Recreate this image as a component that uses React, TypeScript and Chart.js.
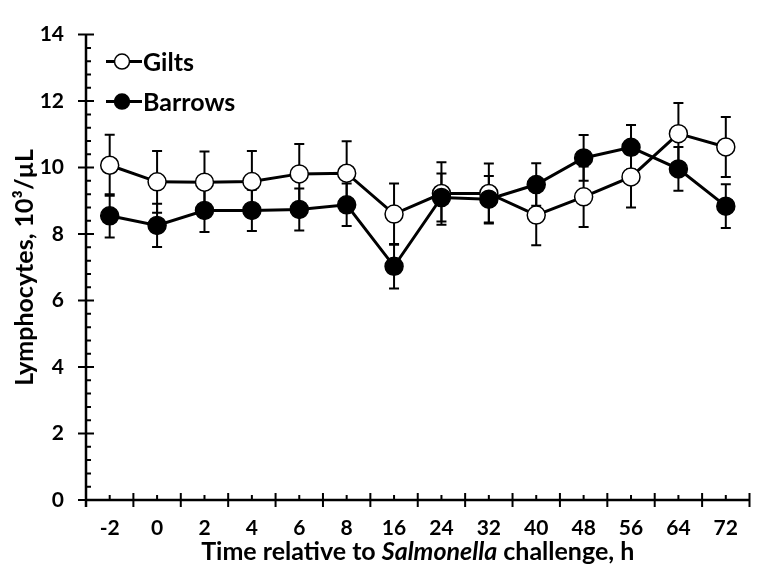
import React, { useEffect, useRef } from "react";
import Chart from "chart.js/auto";

const timeLabels = ["-2", "0", "2", "4", "6", "8", "16", "24", "32", "40", "48", "56", "64", "72"];
const giltsMean = [10.07, 9.57, 9.56, 9.58, 9.81, 9.83, 8.6, 9.22, 9.22, 8.57, 9.12, 9.72, 11.02, 10.62];
const giltsSE = [0.92, 0.93, 0.92, 0.92, 0.9, 0.96, 0.92, 0.94, 0.9, 0.91, 0.91, 0.92, 0.92, 0.9];
const barrowsMean = [8.55, 8.26, 8.71, 8.71, 8.74, 8.88, 7.03, 9.1, 9.05, 9.49, 10.29, 10.61, 9.96, 8.84];
const barrowsSE = [0.65, 0.65, 0.65, 0.62, 0.63, 0.64, 0.67, 0.72, 0.7, 0.64, 0.69, 0.67, 0.66, 0.66];
const yMin = 0;
const yMax = 14;
const yMajorStep = 2;
const yMinorStep = 0.4;
const seriesNames = ["Gilts", "Barrows"];
const xTitleParts = [
  { text: "Time relative to ", italic: false },
  { text: "Salmonella", italic: true },
  { text: " challenge, h", italic: false },
];
const yTitle = "Lymphocytes, 10³/µL";

const FONT = "Lato, 'Open Sans', sans-serif";

export default function App() {
  const ref = useRef<HTMLCanvasElement>(null);

  useEffect(() => {
    const canvas = ref.current!;

    const errorBars = {
      id: "errorBars",
      beforeDatasetsDraw(chart: any) {
        const ctx = chart.ctx;
        const xs = chart.scales.x;
        const ys = chart.scales.y;
        const sets = [
          { m: giltsMean, e: giltsSE },
          { m: barrowsMean, e: barrowsSE },
        ];
        ctx.save();
        ctx.strokeStyle = "#000";
        ctx.lineWidth = 2;
        sets.forEach((s) => {
          s.m.forEach((v, i) => {
            const x = xs.getPixelForValue(i);
            const yt = ys.getPixelForValue(v + s.e[i]);
            const yb = ys.getPixelForValue(v - s.e[i]);
            ctx.beginPath();
            ctx.moveTo(x, yt);
            ctx.lineTo(x, yb);
            ctx.moveTo(x - 5, yt);
            ctx.lineTo(x + 5, yt);
            ctx.moveTo(x - 5, yb);
            ctx.lineTo(x + 5, yb);
            ctx.stroke();
          });
        });
        ctx.restore();
      },
    };

    const decorations = {
      id: "decorations",
      afterDraw(chart: any) {
        const ctx = chart.ctx;
        const xs = chart.scales.x;
        const ys = chart.scales.y;
        const ca = chart.chartArea;
        ctx.save();
        ctx.strokeStyle = "#000";
        ctx.fillStyle = "#000";
        // axes
        ctx.lineWidth = 2.5;
        ctx.beginPath();
        ctx.moveTo(ca.left, ys.getPixelForValue(yMax));
        ctx.lineTo(ca.left, ca.bottom + 7);
        ctx.moveTo(ca.left, ca.bottom);
        ctx.lineTo(ca.right, ca.bottom);
        ctx.stroke();
        ctx.lineWidth = 2;
        ctx.beginPath();
        // y ticks
        const nMinor = Math.round((yMax - yMin) / yMinorStep);
        const perMajor = Math.round(yMajorStep / yMinorStep);
        for (let i = 0; i <= nMinor; i++) {
          const y = ys.getPixelForValue(yMin + i * yMinorStep);
          if (i % perMajor === 0) {
            ctx.moveTo(ca.left - 8, y);
            ctx.lineTo(ca.left + 8, y);
          } else {
            ctx.moveTo(ca.left, y);
            ctx.lineTo(ca.left + 5, y);
          }
        }
        // x ticks
        const n = timeLabels.length;
        for (let i = 0; i <= n; i++) {
          const x = xs.getPixelForValue(i - 0.5);
          ctx.moveTo(x, ca.bottom - 7);
          ctx.lineTo(x, ca.bottom + 7);
        }
        for (let i = 0; i < n; i++) {
          const x = xs.getPixelForValue(i);
          ctx.moveTo(x, ca.bottom);
          ctx.lineTo(x, ca.bottom - 5);
        }
        ctx.stroke();

        // x title
        ctx.textBaseline = "middle";
        const fontN = `bold 25px ${FONT}`;
        const fontI = `italic bold 25px ${FONT}`;
        let total = 0;
        const widths = xTitleParts.map((p) => {
          ctx.font = p.italic ? fontI : fontN;
          const w = ctx.measureText(p.text).width;
          total += w;
          return w;
        });
        let x0 = (ca.left + ca.right) / 2 - total / 2;
        const ty = ca.bottom + 52;
        xTitleParts.forEach((p, i) => {
          ctx.font = p.italic ? fontI : fontN;
          ctx.textAlign = "left";
          ctx.fillText(p.text, x0, ty);
          x0 += widths[i];
        });

        // y title
        ctx.save();
        ctx.translate(25, (ca.top + ca.bottom) / 2);
        ctx.rotate(-Math.PI / 2);
        ctx.font = fontN;
        ctx.textAlign = "center";
        ctx.fillText(yTitle, 0, 0);
        ctx.restore();

        // legend
        const lx = ca.left + 20;
        seriesNames.forEach((name, i) => {
          const ly = ca.top + 27 + i * 40;
          ctx.lineWidth = 3;
          ctx.beginPath();
          ctx.moveTo(lx, ly);
          ctx.lineTo(lx + 36, ly);
          ctx.stroke();
          ctx.beginPath();
          ctx.arc(lx + 16, ly, 7.5, 0, Math.PI * 2);
          ctx.fillStyle = i === 0 ? "#fff" : "#000";
          ctx.fill();
          ctx.lineWidth = 1.5;
          ctx.stroke();
          ctx.fillStyle = "#000";
          ctx.font = `bold 25px ${FONT}`;
          ctx.textAlign = "left";
          ctx.textBaseline = "middle";
          ctx.fillText(name, lx + 37, ly + 1);
        });
        ctx.restore();
      },
    };

    const chart = new Chart(canvas, {
      type: "line",
      data: {
        labels: timeLabels,
        datasets: [
          {
            label: seriesNames[0],
            data: giltsMean,
            order: 1,
            borderColor: "#000",
            borderWidth: 3,
            pointRadius: 9,
            pointBorderWidth: 1.5,
            pointBackgroundColor: "#fff",
            pointBorderColor: "#000",
            tension: 0,
          },
          {
            label: seriesNames[1],
            data: barrowsMean,
            order: 0,
            borderColor: "#000",
            borderWidth: 3,
            pointRadius: 9,
            pointBorderWidth: 1.5,
            pointBackgroundColor: "#000",
            pointBorderColor: "#000",
            tension: 0,
          },
        ],
      },
      options: {
        responsive: false,
        animation: false,
        devicePixelRatio: 1,
        layout: { padding: { top: 15, right: 9, left: 0, bottom: 0 } },
        plugins: {
          legend: { display: false },
          tooltip: { enabled: false },
          title: { display: false },
        },
        scales: {
          x: {
            type: "category",
            offset: true,
            grid: { display: false, drawTicks: false },
            border: { display: false },
            ticks: {
              color: "#000",
              font: { family: FONT, size: 21, weight: "bold" },
              padding: 16,
              maxRotation: 0,
              autoSkip: false,
            },
            afterFit(scale: any) {
              scale.height = 68;
            },
          },
          y: {
            min: yMin,
            max: yMax,
            grid: { display: false, drawTicks: false },
            border: { display: false },
            ticks: {
              stepSize: yMajorStep,
              color: "#000",
              font: { family: FONT, size: 21, weight: "bold" },
              padding: 22,
            },
            afterFit(scale: any) {
              scale.width = 86;
            },
          },
        },
      },
      plugins: [errorBars, decorations],
    });
    return () => chart.destroy();
  }, []);

  return (
    <div style={{ position: "fixed", left: 0, top: 0, width: 760, height: 568, background: "#fff" }}>
      <canvas ref={ref} width={760} height={568} />
    </div>
  );
}
